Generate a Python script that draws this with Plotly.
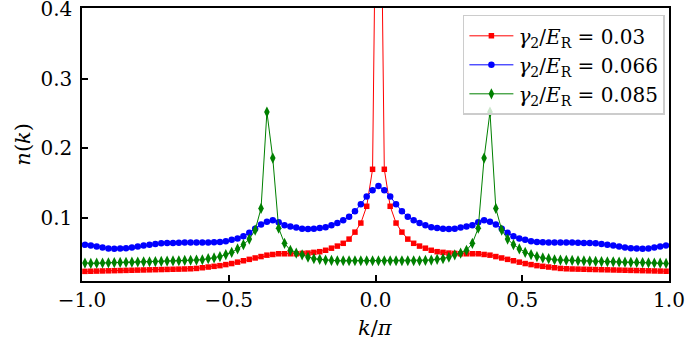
import plotly.graph_objects as go

# momentum grid k/pi
k = [round(-0.99 + 0.02 * i, 2) for i in range(100)]

n_red = [
    0.0238, 0.024, 0.0242, 0.0244, 0.0246, 0.0248, 0.025, 0.0252, 0.0254, 0.0256,
    0.0258, 0.026, 0.0262, 0.0264, 0.0266, 0.0268, 0.027, 0.0272, 0.0275, 0.028,
    0.029, 0.030, 0.031, 0.032, 0.0335, 0.035, 0.037, 0.039, 0.041, 0.043,
    0.045, 0.047, 0.048, 0.049, 0.049, 0.049, 0.049, 0.0495, 0.050, 0.051,
    0.052, 0.054, 0.057, 0.060, 0.064, 0.070, 0.080, 0.093, 0.117, 0.170,
    0.90, 0.170, 0.117, 0.093, 0.080, 0.070, 0.064, 0.060, 0.057, 0.054,
    0.052, 0.051, 0.050, 0.0495, 0.049, 0.049, 0.049, 0.049, 0.048, 0.047,
    0.045, 0.043, 0.041, 0.039, 0.037, 0.035, 0.0335, 0.032, 0.031, 0.030,
    0.029, 0.028, 0.0275, 0.0272, 0.027, 0.0268, 0.0266, 0.0264, 0.0262, 0.026,
    0.0258, 0.0256, 0.0254, 0.0252, 0.025, 0.0248, 0.0246, 0.0244, 0.0242, 0.024,
]

n_blue = [
    0.062, 0.061, 0.0595, 0.058, 0.0565, 0.0562, 0.0565, 0.057, 0.058, 0.0595,
    0.061, 0.062, 0.063, 0.064, 0.0643, 0.0645, 0.0648, 0.065, 0.065, 0.065,
    0.065, 0.065, 0.0655, 0.066, 0.067, 0.069, 0.071, 0.074, 0.079, 0.085,
    0.091, 0.095, 0.097, 0.094, 0.090, 0.088, 0.0865, 0.085, 0.0845, 0.085,
    0.086, 0.087, 0.090, 0.093, 0.097, 0.102, 0.110, 0.120, 0.131, 0.140,
    0.146, 0.140, 0.131, 0.120, 0.110, 0.102, 0.097, 0.093, 0.090, 0.087,
    0.086, 0.085, 0.0845, 0.085, 0.0865, 0.088, 0.090, 0.094, 0.097, 0.095,
    0.091, 0.085, 0.079, 0.074, 0.071, 0.069, 0.067, 0.066, 0.0655, 0.065,
    0.065, 0.065, 0.065, 0.065, 0.0648, 0.0645, 0.0643, 0.064, 0.063, 0.062,
    0.061, 0.0595, 0.058, 0.057, 0.0565, 0.0562, 0.0565, 0.058, 0.0595, 0.061,
]

n_green = [
    0.0357, 0.0352, 0.0355, 0.0358, 0.036, 0.0364, 0.0366, 0.0368, 0.037, 0.0372,
    0.0374, 0.0376, 0.0378, 0.038, 0.0385, 0.0388, 0.039, 0.0394, 0.0397, 0.040,
    0.0404, 0.042, 0.043, 0.045, 0.0478, 0.051, 0.056, 0.062, 0.070, 0.083,
    0.114, 0.252, 0.186, 0.0857, 0.064, 0.054, 0.050, 0.0475, 0.044, 0.042,
    0.041, 0.040, 0.0395, 0.039, 0.039, 0.039, 0.039, 0.039, 0.039, 0.039,
    0.039, 0.039, 0.039, 0.039, 0.039, 0.039, 0.039, 0.039, 0.0395, 0.040,
    0.041, 0.042, 0.044, 0.0475, 0.050, 0.054, 0.064, 0.0857, 0.186, 0.252,
    0.114, 0.083, 0.070, 0.062, 0.056, 0.051, 0.0478, 0.045, 0.043, 0.042,
    0.0404, 0.040, 0.0397, 0.0394, 0.039, 0.0388, 0.0385, 0.038, 0.0378, 0.0376,
    0.0374, 0.0372, 0.037, 0.0368, 0.0366, 0.0364, 0.036, 0.0358, 0.0355, 0.0352,
]

labels = [
    "<i>γ</i><sub>2</sub>/<i>E</i><sub>R</sub> = 0.03",
    "<i>γ</i><sub>2</sub>/<i>E</i><sub>R</sub> = 0.066",
    "<i>γ</i><sub>2</sub>/<i>E</i><sub>R</sub> = 0.085",
]

x_tickvals = [-1.0, -0.5, 0.0, 0.5, 1.0]
x_ticktext = ["−1.0", "−0.5", "0.0", "0.5", "1.0"]
y_tickvals = [0.1, 0.2, 0.3, 0.4]
y_ticktext = ["0.1", "0.2", "0.3", "0.4"]

FONT = "DejaVu Serif"

fig = go.Figure()
fig.add_trace(go.Scatter(x=k, y=n_red, mode="lines+markers", name=labels[0],
                         line=dict(color="#ff0000", width=1),
                         marker=dict(symbol="square", size=5.5, color="#ff0000")))
fig.add_trace(go.Scatter(x=k, y=n_blue, mode="lines+markers", name=labels[1],
                         line=dict(color="#0000ff", width=1),
                         marker=dict(symbol="circle", size=6.5, color="#0000ff")))
fig.add_trace(go.Scatter(x=k, y=n_green, mode="lines+markers", name=labels[2],
                         line=dict(color="#008000", width=1),
                         marker=dict(symbol="diamond-tall", size=8, color="#008000")))

fig.update_layout(
    width=685, height=352,
    margin=dict(l=82, r=16, t=8, b=71, autoexpand=False),
    paper_bgcolor="white", plot_bgcolor="white",
    font=dict(family=FONT, size=20, color="black"),
    showlegend=True,
    legend=dict(x=0.993, y=0.975, xanchor="right", yanchor="top",
                bgcolor="rgba(255,255,255,0.8)", bordercolor="#cccccc", borderwidth=1.5,
                font=dict(family=FONT, size=20), tracegroupgap=0, itemwidth=44),
    annotations=[
        dict(text="<i>k</i>/<i>π</i>", xref="paper", yref="paper", x=0.5, y=-0.172,
             xanchor="center", yanchor="middle", showarrow=False,
             font=dict(family=FONT, size=21)),
        dict(text="<i>n</i>(<i>k</i>)", xref="paper", yref="paper", x=-0.102, y=0.5,
             xanchor="center", yanchor="middle", showarrow=False, textangle=-90,
             font=dict(family=FONT, size=21)),
    ],
)
fig.update_xaxes(range=[-1, 1], tickvals=x_tickvals, ticktext=x_ticktext,
                 showline=True, linecolor="black", linewidth=1.5, mirror=True,
                 ticks="inside", ticklen=6, tickwidth=1.5, tickcolor="black",
                 showgrid=False, zeroline=False, automargin=False,
                 ticklabeloverflow="allow",
                 tickfont=dict(family=FONT, size=20))
fig.update_yaxes(range=[0.01, 0.401], tickvals=y_tickvals, ticktext=y_ticktext,
                 showline=True, linecolor="black", linewidth=1.5, mirror=True,
                 ticks="inside", ticklen=6, tickwidth=1.5, tickcolor="black",
                 showgrid=False, zeroline=False, automargin=False,
                 ticklabeloverflow="allow", ticklabelstandoff=4,
                 tickfont=dict(family=FONT, size=20))

fig.write_html(
    "out.html",
    config={"displayModeBar": False},
    post_script="document.body.style.margin='0';document.body.style.overflow='hidden';",
)
